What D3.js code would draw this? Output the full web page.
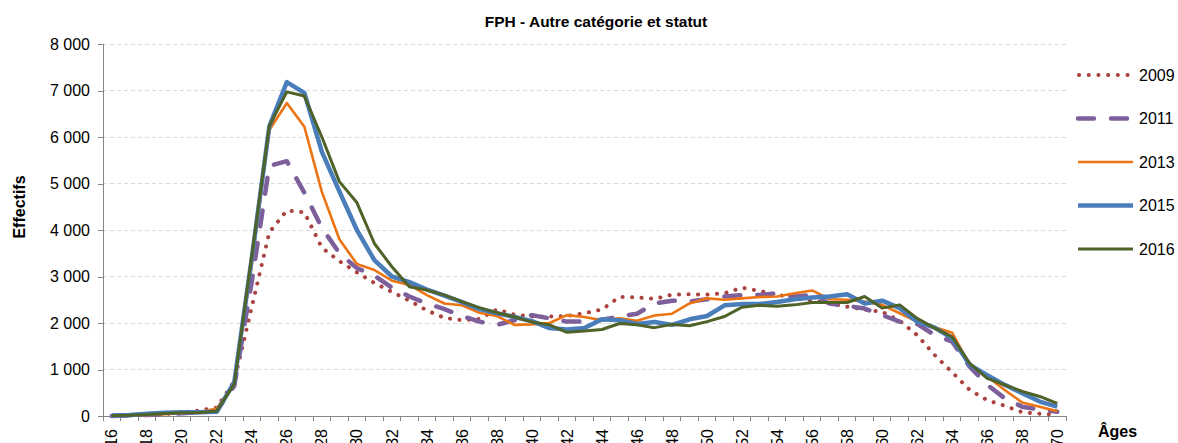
<!DOCTYPE html>
<html>
<head>
<meta charset="utf-8">
<script src="https://cdn.jsdelivr.net/npm/d3@7"></script>
<style>
  body { margin: 0; background: #fff; }
  svg { display: block; }
  text { font-family: Arial, "Liberation Sans", sans-serif; fill: #000; }
</style>
</head>
<body>
<svg id="chart" width="1178" height="443"></svg>
<script>
// Ages on the category axis
const ages = [16, 17, 18, 19, 20, 21, 22, 23, 24, 25, 26, 27, 28, 29, 30, 31, 32, 33, 34, 35,
  36, 37, 38, 39, 40, 41, 42, 43, 44, 45, 46, 47, 48, 49, 50, 51, 52, 53, 54, 55,
  56, 57, 58, 59, 60, 61, 62, 63, 64, 65, 66, 67, 68, 69, 70];
// Labelled ages (every second one)
const xTickAges = [16, 18, 20, 22, 24, 26, 28, 30, 32, 34, 36, 38, 40, 42,
  44, 46, 48, 50, 52, 54, 56, 58, 60, 62, 64, 66, 68, 70];
const yTicks = [0, 1000, 2000, 3000, 4000, 5000, 6000, 7000, 8000];

// Headcount by age, one array per year
const years = ["2009", "2011", "2013", "2015", "2016"];
const eff2009 = [0, 10, 20, 40, 80, 120, 180, 750, 2350, 3950, 4420, 4380, 3620, 3330, 3090, 2860, 2670, 2480, 2270, 2110,
  2060, 2090, 2290, 2180, 2140, 2140, 2150, 2210, 2290, 2560, 2550, 2520, 2610, 2620, 2610, 2640, 2760, 2690, 2610, 2530,
  2480, 2420, 2350, 2290, 2240, 2050, 1740, 1310, 940, 560, 340, 220, 80, 50, 30];
const eff2011 = [0, 10, 20, 40, 60, 80, 120, 650, 2900, 5380, 5480, 4800, 4050, 3500, 3180, 3020, 2760, 2570, 2420, 2300,
  2150, 2030, 1960, 2060, 2170, 2100, 2030, 2030, 2070, 2140, 2200, 2420, 2480, 2460, 2510, 2570, 2600, 2600, 2640, 2570,
  2600, 2420, 2370, 2310, 2170, 2030, 1980, 1740, 1600, 1060, 670, 380, 200, 140, 90];
const eff2013 = [0, 10, 20, 40, 60, 80, 160, 700, 3250, 6150, 6730, 6220, 4820, 3800, 3270, 3140, 2910, 2820, 2600, 2420,
  2380, 2220, 2150, 1960, 1970, 2000, 2170, 2130, 2060, 2100, 2050, 2160, 2200, 2420, 2530, 2500, 2530, 2560, 2570, 2640,
  2700, 2510, 2500, 2460, 2390, 2210, 2030, 1910, 1790, 1100, 850, 560, 290, 200, 100];
const eff2015 = [10, 20, 50, 70, 80, 80, 90, 730, 3400, 6230, 7180, 6950, 5680, 4830, 4000, 3350, 3000, 2880, 2720, 2590,
  2450, 2300, 2210, 2130, 2040, 1890, 1860, 1890, 2080, 2060, 1980, 2020, 1960, 2080, 2150, 2380, 2410, 2410, 2450, 2510,
  2550, 2570, 2620, 2420, 2480, 2320, 2030, 1900, 1670, 1100, 880, 670, 490, 310, 200];
const eff2016 = [10, 15, 30, 55, 70, 70, 110, 690, 3450, 6240, 6970, 6880, 6000, 5040, 4590, 3710, 3210, 2780, 2710, 2600,
  2460, 2330, 2220, 2130, 2020, 1960, 1800, 1830, 1860, 1990, 1960, 1900, 1970, 1940, 2030, 2140, 2340, 2380, 2360, 2390,
  2440, 2440, 2440, 2570, 2320, 2390, 2100, 1890, 1700, 1130, 810, 670, 530, 420, 270];

// Line styles per year
const styles = {
  "2009": { color: "#AA4240", width: 4, dash: "0.1 9.4", cap: "round" },
  "2011": { color: "#7D5F9B", width: 4.5, dash: "16 17", cap: "round" },
  "2013": { color: "#EC7413", width: 2.6, dash: null, cap: "butt" },
  "2015": { color: "#4A7EBB", width: 4.5, dash: null, cap: "butt" },
  "2016": { color: "#4F6228", width: 3, dash: null, cap: "butt" }
};
const valuesByYear = { "2009": eff2009, "2011": eff2011, "2013": eff2013, "2015": eff2015, "2016": eff2016 };

const svg = d3.select("#chart");
const plot = { left: 103, right: 1066, top: 44, bottom: 416 };

const x = d3.scaleBand().domain(ages).range([plot.left, plot.right]).padding(0);
const xc = a => x(a) + x.bandwidth() / 2;
const y = d3.scaleLinear().domain([0, 8000]).range([plot.bottom, plot.top]);
const fmt = v => d3.format(",")(v).replace(/,/g, "\u00a0");

// Horizontal gridlines
svg.append("g")
  .selectAll("line")
  .data(yTicks.filter(t => t > 0))
  .join("line")
  .attr("x1", plot.left).attr("x2", plot.right)
  .attr("y1", d => y(d)).attr("y2", d => y(d))
  .attr("stroke", "#D9D9D9").attr("stroke-width", 1)
  .attr("stroke-dasharray", "4 3")
  .attr("shape-rendering", "crispEdges");

// Y axis
const yAxis = svg.append("g")
  .attr("transform", `translate(${plot.left},0)`)
  .call(d3.axisLeft(y).tickValues(yTicks).tickSize(5).tickPadding(8).tickFormat(fmt));
yAxis.select(".domain").attr("stroke", "#868686").attr("shape-rendering", "crispEdges");
yAxis.selectAll(".tick line").attr("stroke", "#868686").attr("shape-rendering", "crispEdges");
yAxis.selectAll(".tick text")
  .attr("font-size", 16).attr("font-family", "Arial, 'Liberation Sans', sans-serif").attr("fill", "#000");

// X axis line and tick marks between categories
const xg = svg.append("g");
xg.append("line")
  .attr("x1", plot.left).attr("x2", plot.right)
  .attr("y1", plot.bottom).attr("y2", plot.bottom)
  .attr("stroke", "#868686").attr("shape-rendering", "crispEdges");
const boundaries = ages.map(a => x(a)).concat([x.range()[1]]);
xg.selectAll("line.tk")
  .data(boundaries)
  .join("line")
  .attr("class", "tk")
  .attr("x1", d => d).attr("x2", d => d)
  .attr("y1", plot.bottom).attr("y2", plot.bottom + 5)
  .attr("stroke", "#868686").attr("shape-rendering", "crispEdges");
xg.selectAll("text")
  .data(xTickAges)
  .join("text")
  .attr("transform", d => `translate(${xc(d)},${plot.bottom + 13}) rotate(-90)`)
  .attr("text-anchor", "end")
  .attr("dy", "0.35em")
  .attr("font-size", 16)
  .text(d => d);

// Series lines
const line = d3.line().x((d, i) => xc(ages[i])).y(d => y(d));
years.forEach(yr => {
  const s = styles[yr];
  svg.append("path")
    .datum(valuesByYear[yr])
    .attr("d", line)
    .attr("fill", "none")
    .attr("stroke", s.color)
    .attr("stroke-width", s.width)
    .attr("stroke-linecap", s.cap)
    .attr("stroke-linejoin", "round")
    .attr("stroke-dasharray", s.dash);
});

// Legend
const legend = svg.append("g");
years.forEach((yr, i) => {
  const s = styles[yr];
  const ly = 75 + i * 43.5;
  legend.append("line")
    .attr("x1", yr === "2009" ? 1079 : 1078).attr("x2", 1133)
    .attr("y1", ly).attr("y2", ly)
    .attr("stroke", s.color).attr("stroke-width", s.width)
    .attr("stroke-linecap", s.cap === "round" ? "round" : "butt")
    .attr("stroke-dasharray", yr === "2009" ? "0.1 9.6" : (yr === "2011" ? "16 17" : null));
  legend.append("text")
    .attr("x", 1139).attr("y", ly).attr("dy", "0.35em")
    .attr("font-size", 16)
    .text(yr);
});

// Titles
svg.append("text")
  .attr("x", 596).attr("y", 27)
  .attr("text-anchor", "middle")
  .attr("font-size", 15.5).attr("font-weight", "bold")
  .text("FPH - Autre catégorie et statut");

svg.append("text")
  .attr("transform", "translate(19,207) rotate(-90)")
  .attr("text-anchor", "middle").attr("dy", "0.35em")
  .attr("font-size", 16).attr("font-weight", "bold")
  .text("Effectifs");

svg.append("text")
  .attr("x", 1098).attr("y", 437)
  .attr("font-size", 16).attr("font-weight", "bold")
  .text("Âges");
</script>
</body>
</html>
